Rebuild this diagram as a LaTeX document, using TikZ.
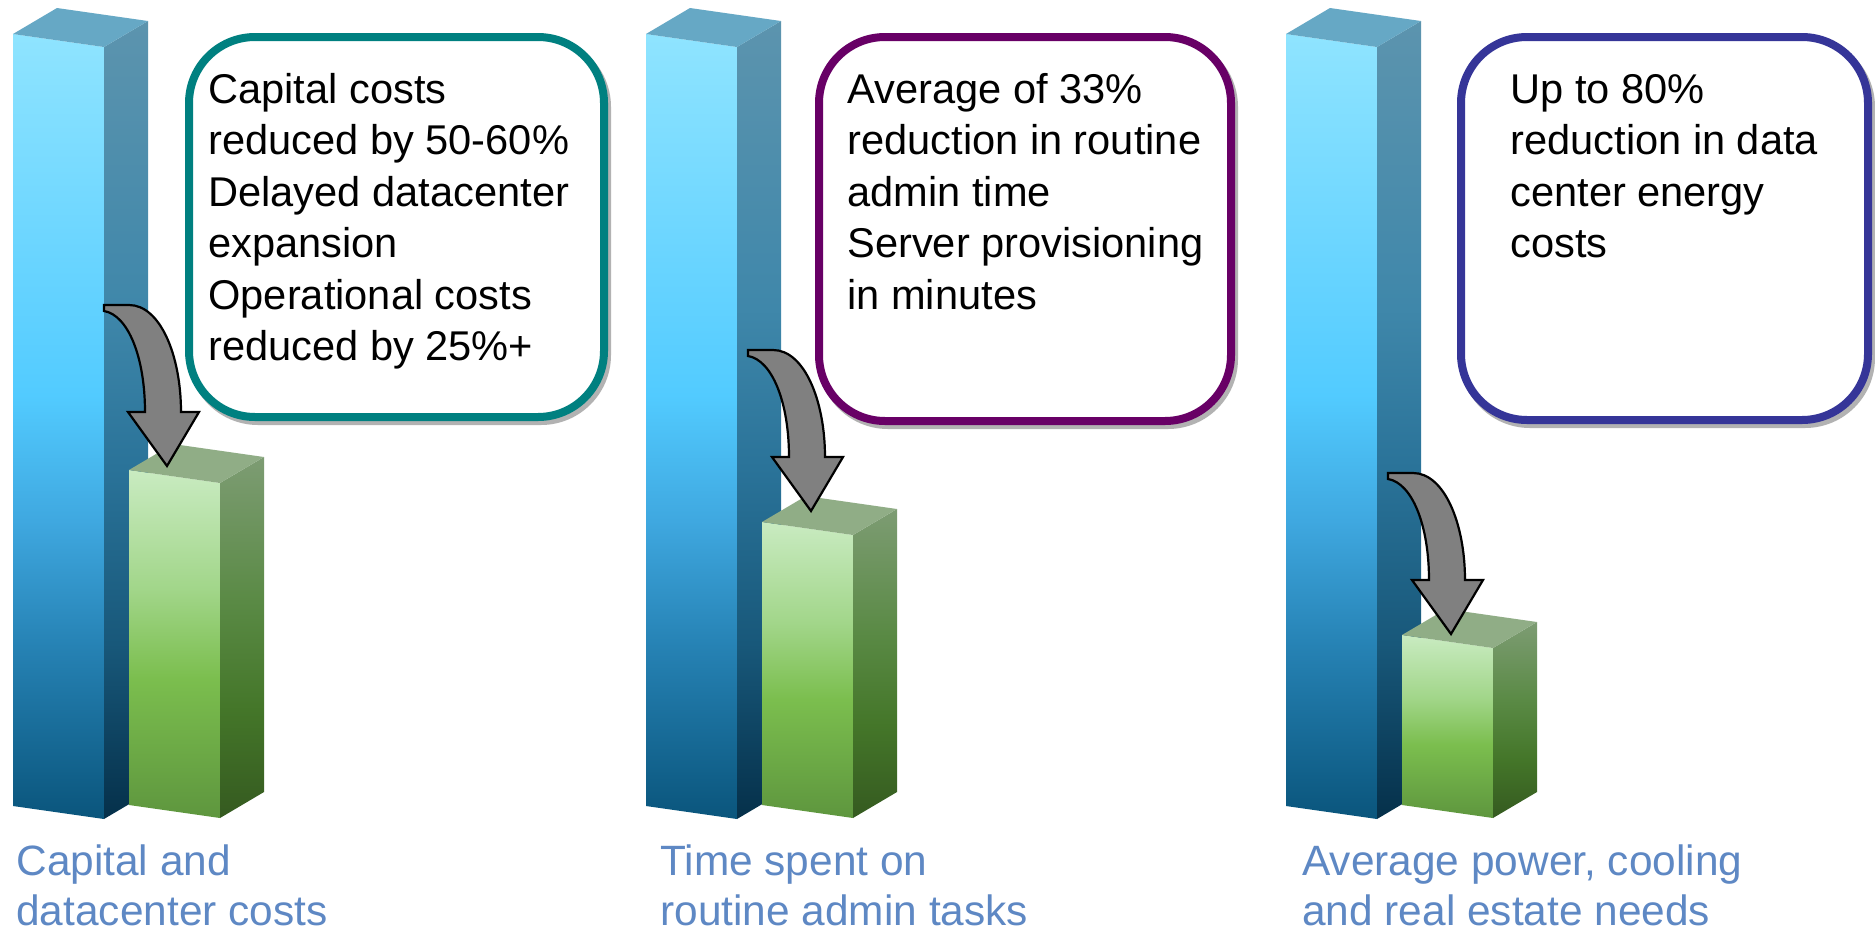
\documentclass[tikz,border=0pt]{standalone}
\usepackage{fontspec}
\setmainfont{Liberation Sans}
\usetikzlibrary{shadows}
\definecolor{bF1}{HTML}{8FE4FF}
\definecolor{bF2}{HTML}{52CBFF}
\definecolor{bF3}{HTML}{3FA8E0}
\definecolor{bF4}{HTML}{2682B4}
\definecolor{bF5}{HTML}{0A557C}
\definecolor{bS1}{HTML}{5C94AE}
\definecolor{bS2}{HTML}{3F87AA}
\definecolor{bS3}{HTML}{2A7399}
\definecolor{bS4}{HTML}{18587A}
\definecolor{bS5}{HTML}{05304A}
\definecolor{bT}{HTML}{66A8C5}
\definecolor{gF1}{HTML}{C9EBC1}
\definecolor{gF2}{HTML}{A2D68A}
\definecolor{gF3}{HTML}{7BBE4E}
\definecolor{gF4}{HTML}{5E963E}
\definecolor{gS1}{HTML}{7D9C73}
\definecolor{gS2}{HTML}{5A8A45}
\definecolor{gS3}{HTML}{447629}
\definecolor{gS4}{HTML}{355A20}
\definecolor{gT}{HTML}{90AD86}
\definecolor{arrowc}{HTML}{808080}
\definecolor{tealc}{HTML}{008080}
\definecolor{purplec}{HTML}{680066}
\definecolor{navyc}{HTML}{353598}
\definecolor{labelc}{HTML}{5E88C4}
\pgfdeclareverticalshading{bluefront}{100bp}{color(0bp)=(bF5); color(25bp)=(bF5); color(36bp)=(bF4); color(44bp)=(bF3); color(52bp)=(bF2); color(75bp)=(bF1); color(100bp)=(bF1)}
\pgfdeclareverticalshading{blueside}{100bp}{color(0bp)=(bS5); color(25bp)=(bS5); color(36bp)=(bS4); color(47bp)=(bS3); color(57bp)=(bS2); color(75bp)=(bS1); color(100bp)=(bS1)}
\pgfdeclareverticalshading{greenfront}{100bp}{color(0bp)=(gF4); color(25bp)=(gF4); color(45bp)=(gF3); color(58bp)=(gF2); color(75bp)=(gF1); color(100bp)=(gF1)}
\pgfdeclareverticalshading{greenside}{100bp}{color(0bp)=(gS4); color(25bp)=(gS4); color(40bp)=(gS3); color(55bp)=(gS2); color(75bp)=(gS1); color(100bp)=(gS1)}
\tikzset{
  pics/bluebar/.style={code={
    \shade[shading=bluefront] (0,34) -- (91,47) -- (91,819) -- (0,806) -- cycle;
    \shade[shading=blueside] (91,47) -- (135,21) -- (135,793) -- (91,819) -- cycle;
    \fill[bT] (0,34) -- (91,47) -- (135,21) -- (44,8) -- cycle;
  }},
  pics/greenbar/.style={code={
    \shade[shading=greenfront] (0,#1) -- (91,#1+13) -- (91,818) -- (0,805) -- cycle;
    \shade[shading=greenside] (91,#1+13) -- (135,#1-13) -- (135,792) -- (91,818) -- cycle;
    \fill[gT] (0,#1) -- (91,#1+13) -- (135,#1-13) -- (44,#1-26) -- cycle;
  }},
  pics/droparrow/.style={code={
    \filldraw[fill=arrowc, draw=black, line width=1.1pt, line join=miter]
      (0,0) -- (25,0) .. controls (56,0) and (77,50) .. (77,107) -- (95,107) -- (63,161)
      -- (24,107) -- (41,107) .. controls (41,52) and (24,10) .. (0,6) -- cycle;
  }},
  infobox/.style={draw=#1, line width=4pt, rounded corners=33pt, fill=white,
    general shadow={draw=black!30, line width=4pt, fill=none, shadow xshift=1.5pt, shadow yshift=-2pt}},
  boxtext/.style={anchor=north west, inner sep=0pt, align=left, text=black,
    font=\fontsize{20.8}{25.7}\selectfont},
  bartext/.style={anchor=north west, inner sep=0pt, align=left, text=labelc,
    font=\fontsize{21.2}{25}\selectfont},
}
\begin{document}
\begin{tikzpicture}[x=0.5pt, y=-0.5pt]
\useasboundingbox (0,0) rectangle (1875,932);
\fill[white] (0,0) rectangle (1875,932);
% bars
\pic at (13,0) {bluebar};
\pic at (129,0) {greenbar=470};
\pic at (646,0) {bluebar};
\pic at (762,0) {greenbar=522};
\pic at (1286,0) {bluebar};
\pic at (1402,0) {greenbar=635};
% arrows
\pic at (104,305) {droparrow};
\pic at (748,350) {droparrow};
\pic at (1388,473) {droparrow};
% boxes
\node[infobox=tealc, minimum width=207.5pt, minimum height=190pt] (b1) at (396.5,227) {};
\node[infobox=purplec, minimum width=206pt, minimum height=192pt] (b2) at (1025,229) {};
\node[infobox=navyc, minimum width=203.5pt, minimum height=191.5pt] (b3) at (1664.5,228.5) {};
\node[boxtext] (t1) at (208,72) {\rule{0pt}{15.5pt}Capital costs\\reduced by 50-60\%\\Delayed datacenter\\expansion\\Operational costs\\reduced by 25\%+};
\node[boxtext] (t2) at (847,72) {\rule{0pt}{15.5pt}Average of 33\%\\reduction in routine\\admin time\\Server provisioning\\in minutes};
\node[boxtext] (t3) at (1510,72) {\rule{0pt}{15.5pt}Up to 80\%\\reduction in data\\center energy\\costs};
% labels
\node[bartext] (l1) at (16,844) {\rule{0pt}{15.5pt}Capital and\\datacenter costs};
\node[bartext] (l2) at (660,844) {\rule{0pt}{15.5pt}Time spent on\\routine admin tasks};
\node[bartext] (l3) at (1302,844) {\rule{0pt}{15.5pt}Average power, cooling\\and real estate needs};
\end{tikzpicture}
\end{document}
